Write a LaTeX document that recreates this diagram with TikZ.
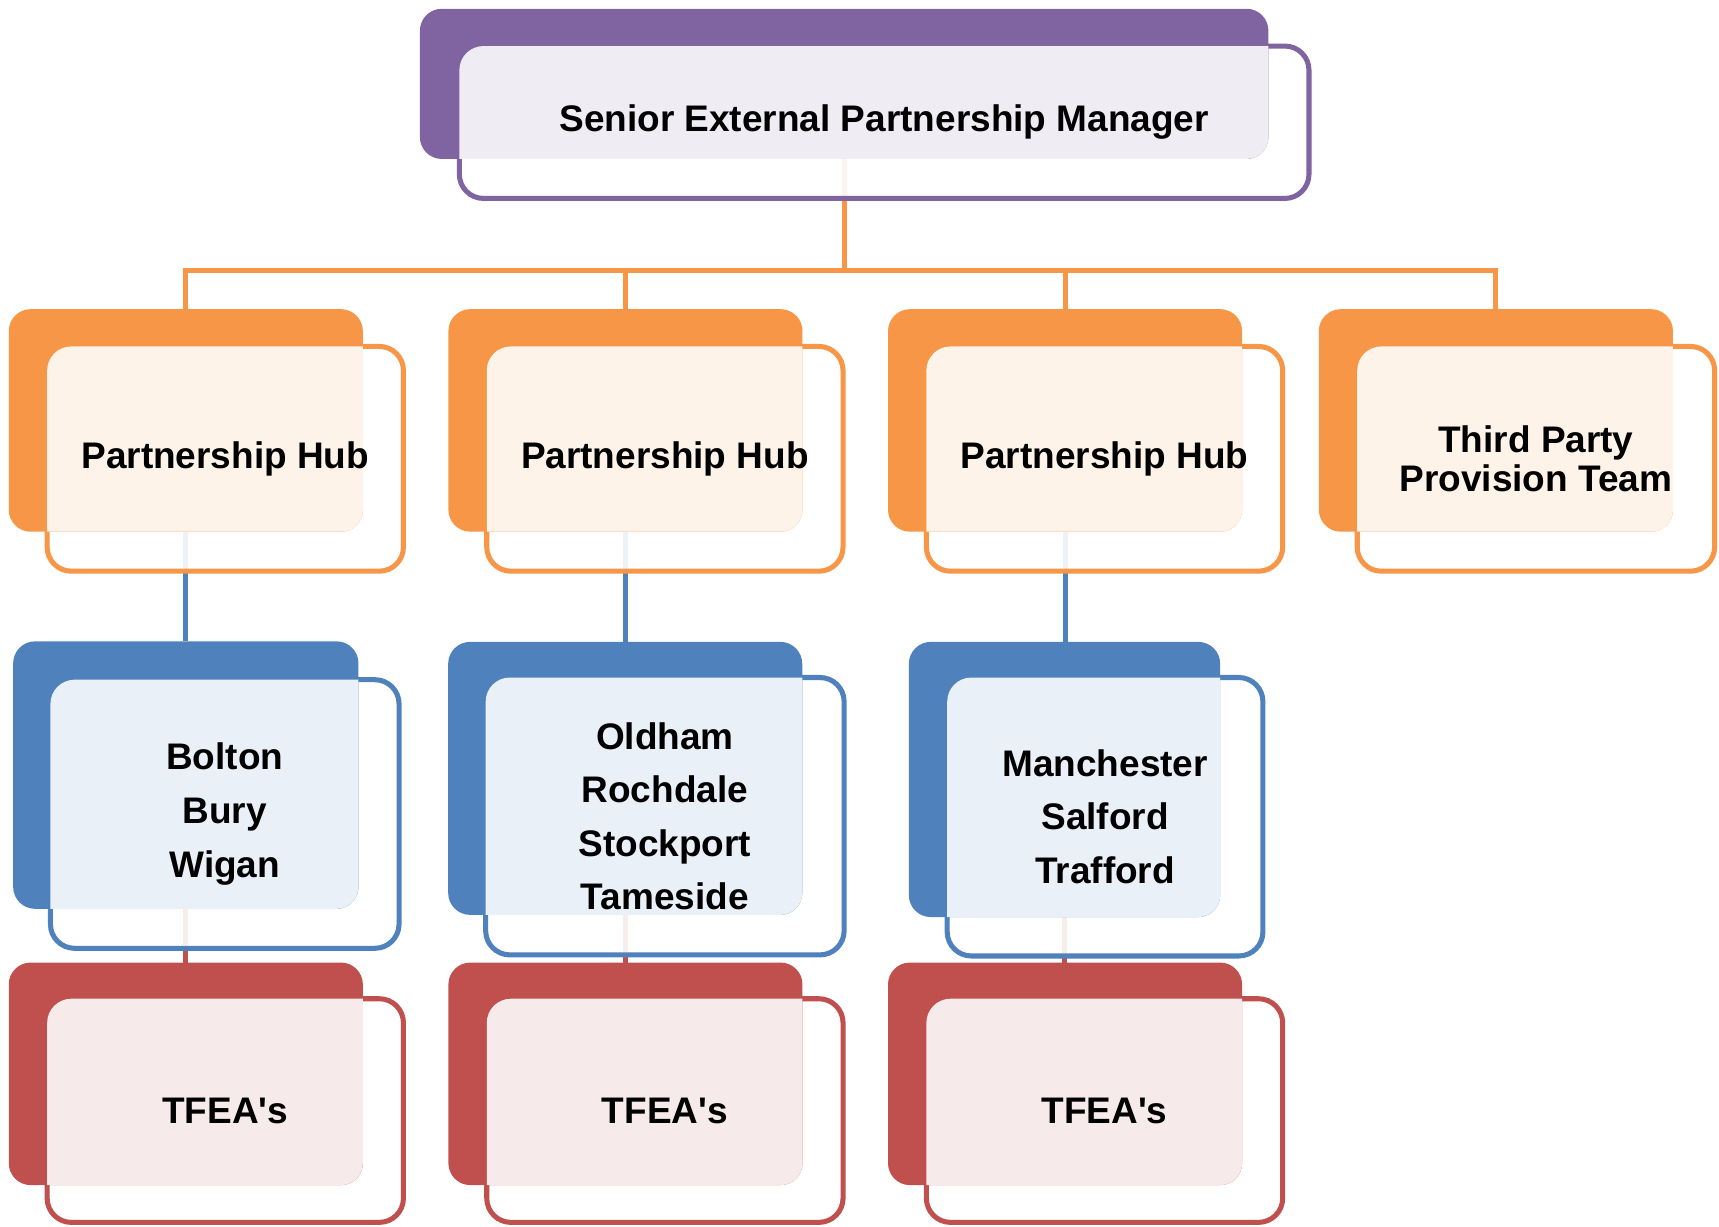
\documentclass[tikz,border=0pt]{standalone}
\usepackage{fontspec}
\setmainfont{Liberation Sans}
\usepackage{tikz}
\usetikzlibrary{positioning, calc}
\pgfdeclarelayer{wire}
\pgfdeclarelayer{frame}
\pgfsetlayers{wire,frame,main}
\definecolor{mgrcol}{HTML}{8064A2}
\definecolor{hubcol}{HTML}{F79646}
\definecolor{areacol}{HTML}{4F81BD}
\definecolor{teamcol}{HTML}{C0504D}
\tikzset{
  plate/.style={fill=#1, rounded corners=2mm, inner sep=0pt, outer sep=0pt},
  frame/.style={draw=#1, line width=0.46mm, fill=white, fill opacity=0.9, rounded corners=2.2mm, inner sep=0pt, outer sep=0pt},
  wire/.style={draw=#1, line width=0.46mm},
  boxtext/.style={font=\fontsize{9.6}{13.9}\selectfont\bfseries, align=center, inner sep=0pt}
}
\newcommand{\orgunit}[9]{%
  \node[plate=#2, minimum width=#4, minimum height=#5] (#1plate) at (#3) {};
  \begin{pgfonlayer}{frame}
    \node[frame=#2, minimum width=#7, minimum height=#8] (#1) at (#6) {};
  \end{pgfonlayer}
  \begin{scope}
    \clip[rounded corners=2mm] (#1plate.north west) rectangle (#1plate.south east);
    \fill[#2!12, rounded corners=2.2mm] (#1.north west) rectangle (#1.south east);
  \end{scope}
  \node[boxtext] (#1text) at (#1) {#9};
}
\newcommand{\tfea}{TFEA\textquotesingle s}

\begin{document}
\begin{tikzpicture}[x=0.1mm, y=-0.1mm]
                    \useasboundingbox (0,0) rectangle (1568,1119);
                    \orgunit{mgr}{mgrcol}{770,76.5}{77.4mm}{13.7mm}{806.5,111.5}{77.5mm}{13.9mm}{Senior External Partnership Manager}
                    \orgunit{hubA}{hubcol}{169.5,383.5}{32.3mm}{20.3mm}{205.5,418.5}{32.5mm}{20.5mm}{Partnership Hub}
                    \orgunit{hubB}{hubcol}{570.5,383.5}{32.3mm}{20.3mm}{606.5,418.5}{32.5mm}{20.5mm}{Partnership Hub}
                    \orgunit{hubC}{hubcol}{971.5,383.5}{32.3mm}{20.3mm}{1007.5,418.5}{32.5mm}{20.5mm}{Partnership Hub}
                    \orgunit{third}{hubcol}{1364.5,383.5}{32.3mm}{20.3mm}{1401,418.5}{32.6mm}{20.5mm}{Third Party\\[-3.65pt]Provision Team}
                    \orgunit{areaA}{areacol}{169.5,707}{31.5mm}{24.4mm}{205,742.5}{31.8mm}{24.5mm}{Bolton\\Bury\\Wigan}
                    \orgunit{areaB}{areacol}{570.3,710}{32.3mm}{24.9mm}{606.5,744.5}{32.7mm}{25.3mm}{Oldham\\Rochdale\\Stockport\\Tameside}
                    \orgunit{areaC}{areacol}{971,711}{28.4mm}{25.1mm}{1008,745}{28.8mm}{25.4mm}{Manchester\\Salford\\Trafford}
                    \orgunit{teamA}{teamcol}{169.5,979.5}{32.3mm}{20.3mm}{205.5,1013}{32.5mm}{20.4mm}{\tfea}
                    \orgunit{teamB}{teamcol}{570.5,979.5}{32.3mm}{20.3mm}{606.5,1013}{32.5mm}{20.4mm}{\tfea}
                    \orgunit{teamC}{teamcol}{971.5,979.5}{32.3mm}{20.3mm}{1007.5,1013}{32.5mm}{20.4mm}{\tfea}
                    \coordinate (bus) at (770,247);
                    \begin{pgfonlayer}{wire}
                      \draw[wire=hubcol] (mgrplate.south) -- (bus);
                      \foreach \hub in {hubA,hubB,hubC,third}
                        \draw[wire=hubcol] (bus) -| (\hub plate.north);
                      \foreach \hub/\area in {hubA/areaA,hubB/areaB,hubC/areaC}
                        \draw[wire=areacol] (\hub plate.south) -- (\hub plate.south |- \area plate.north);
                      \foreach \area/\team in {areaA/teamA,areaB/teamB,areaC/teamC}
                        \draw[wire=teamcol] (\area plate.south) -- (\area plate.south |- \team plate.north);
                    \end{pgfonlayer}
                  \end{tikzpicture}
\end{document}
